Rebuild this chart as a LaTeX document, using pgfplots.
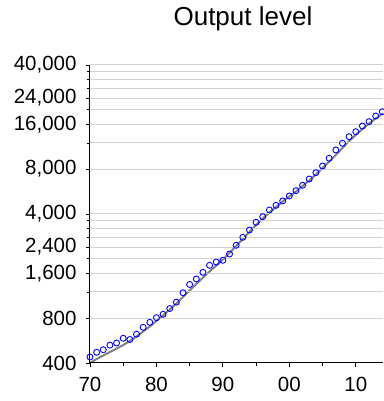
\documentclass[border=0pt]{standalone}
\usepackage{pgfplots}
\pgfplotsset{compat=1.18}
\usepackage{pgfplotstable}
\usepackage{fontspec}
\setmainfont{Liberation Sans}
\definecolor{gridgray}{RGB}{210,210,210}
\definecolor{trendgray}{RGB}{128,128,128}
\pgfplotstableread{
year value
1970 439
1971 472
1972 491
1973 527
1974 545
1975 586
1976 575
1977 624
1978 694
1979 750
1980 806
1981 849
1982 928
1983 1024
1984 1185
1985 1346
1986 1465
1987 1624
1988 1809
1989 1904
1990 1956
1991 2156
1992 2467
1993 2790
1994 3124
1995 3517
1996 3836
1997 4256
1998 4573
1999 4892
2000 5284
2001 5734
2002 6235
2003 6871
2004 7573
2005 8397
2006 9457
2007 10757
2008 11929
2009 13210
2010 14270
2011 15584
2012 16660
2013 18190
2014 19440
}\outputdata
\pgfplotstableread{
year value
1970 400
1971 425
1972 449
1973 474
1974 500
1975 528
1976 562
1977 602
1978 651
1979 703
1980 766
1981 834
1982 914
1983 1003
1984 1109
1985 1227
1986 1356
1987 1499
1988 1645
1989 1805
1990 1980
1991 2189
1992 2439
1993 2719
1994 3029
1995 3376
1996 3732
1997 4094
1998 4457
1999 4853
2000 5241
2001 5662
2002 6166
2003 6713
2004 7363
2005 8145
2006 9006
2007 9956
2008 11093
2009 12360
2010 13557
2011 14879
2012 16199
2013 17500
2014 18817
2014.1 18950
}\trenddata
\begin{document}
\begin{tikzpicture}
\begin{axis}[
  scale only axis,
  width=293pt, height=298pt,
  xmin=1970, xmax=2014.1,
  ymode=log, ymin=400, ymax=40000,
  axis lines*=left,
  axis line style={black, line width=1pt},
  tick align=outside,
  major tick length=4pt,
  minor tick length=3pt,
  every tick/.style={black, line width=0.8pt},
  xtick={1970,1980,1990,2000,2010},
  xticklabels={70,80,90,00,10},
  minor xtick={1975,1985,1995,2005},
  ytick={400,800,1600,2400,4000,8000,16000,24000,40000},
  yticklabels={400,800,{1,600},{2,400},{4,000},{8,000},{16,000},{24,000},{40,000}},
  minor ytick={1200,2000,2800,3200,3600,12000,20000,28000,32000,36000},
  ymajorgrids, yminorgrids,
  major grid style={gridgray, line width=1pt},
  minor grid style={gridgray, line width=1pt},
  tick label style={font=\fontsize{20.5}{22}\selectfont},
  xticklabel style={yshift=-7pt},
  yticklabel style={xshift=-6pt},
  title={Output level},
  title style={font=\fontsize{26}{28}\selectfont, at={(0.522,1)}, anchor=base, yshift=33pt},
  axis on top,
]
\addplot[only marks, mark=o, mark size=3pt, color=blue, mark options={line width=0.9pt}] table[x=year, y=value] {\outputdata};
\addplot[trendgray, line width=2pt, no marks] table[x=year, y=value] {\trenddata};
\draw[black, line width=1pt] (rel axis cs:0,1) -- (rel axis cs:1,1);
\end{axis}
\pgfresetboundingbox
\path[use as bounding box] ([xshift=-90pt,yshift=-38pt]current axis.south west) rectangle ([yshift=65pt]current axis.north east);
\end{tikzpicture}
\end{document}
